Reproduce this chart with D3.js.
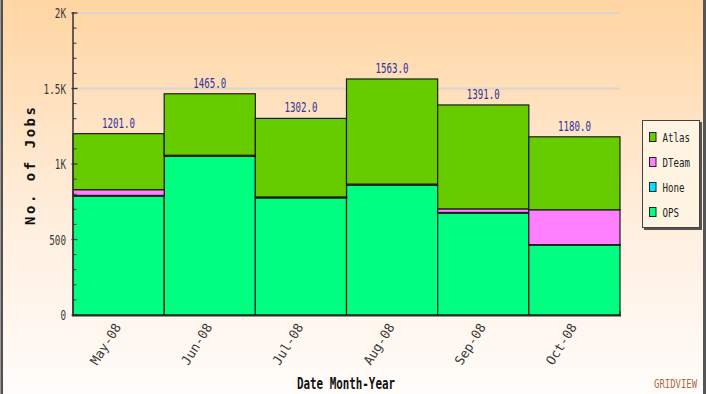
<!DOCTYPE html>
<html>
<head>
<meta charset="utf-8">
<script src="https://cdn.jsdelivr.net/npm/d3@7"></script>
<style>
  html, body { margin: 0; padding: 0; background: #fff; }
  svg { display: block; }
</style>
</head>
<body>
<svg id="chart" width="706" height="394"></svg>
<script>
// Monthly job counts per VO, stacked bottom-to-top: OPS, Hone, DTeam, Atlas
const months = ["May-08", "Jun-08", "Jul-08", "Aug-08", "Sep-08", "Oct-08"];
const ops    = [788, 1052, 776, 861, 675, 464];
const hone   = [4, 6, 6, 6, 4, 2];
const dteam  = [38, 0, 0, 0, 24, 231];
const atlas  = [371, 407, 520, 696, 688, 483];

const seriesNames  = ["OPS", "Hone", "DTeam", "Atlas"];
const seriesColors = { OPS: "#00ff80", Hone: "#00e5ff", DTeam: "#ff80ff", Atlas: "#66cc00" };
const legendOrder  = ["Atlas", "DTeam", "Hone", "OPS"];
const yTicks       = [0, 500, 1000, 1500, 2000];
const yTickLabels  = ["0", "500", "1K", "1.5K", "2K"];

const rows = months.map((m, i) => ({
  month: m, OPS: ops[i], Hone: hone[i], DTeam: dteam[i], Atlas: atlas[i]
}));

const W = 706, H = 394;
const svg = d3.select("#chart");

// background gradient
const defs = svg.append("defs");
const grad = defs.append("linearGradient").attr("id", "bg")
  .attr("x1", 0).attr("y1", 0).attr("x2", 0).attr("y2", 1);
grad.append("stop").attr("offset", "0%").attr("stop-color", "#ffd5a2");
grad.append("stop").attr("offset", "55%").attr("stop-color", "#ffeedd");
grad.append("stop").attr("offset", "100%").attr("stop-color", "#fffcfa");
svg.append("rect").attr("width", W).attr("height", H).attr("fill", "url(#bg)");

// frame edges
svg.append("rect").attr("x", 0).attr("y", 0).attr("width", 1).attr("height", H).attr("fill", "#9a9a9a");
svg.append("rect").attr("x", 1).attr("y", 0).attr("width", 2).attr("height", H).attr("fill", "#505050");
svg.append("rect").attr("x", 703).attr("y", 0).attr("width", 3).attr("height", H).attr("fill", "#555555");

const x = d3.scaleBand().domain(months).range([73, 620]).padding(0);
const y = d3.scaleLinear().domain([0, 2000]).range([315, 13]);

// gridlines
svg.append("g").selectAll("line").data(yTicks.filter(v => v > 0)).join("line")
  .attr("x1", 73).attr("x2", 620)
  .attr("y1", d => y(d)).attr("y2", d => y(d))
  .attr("stroke", "#d9d6d0").attr("stroke-width", 2);

// stacked bars
const stacked = d3.stack().keys(seriesNames)(rows);
svg.append("g").selectAll("g").data(stacked).join("g")
  .attr("fill", d => seriesColors[d.key])
  .selectAll("rect").data(d => d).join("rect")
  .attr("x", d => x(d.data.month))
  .attr("width", x.bandwidth())
  .attr("y", d => y(d[1]))
  .attr("height", d => y(d[0]) - y(d[1]))
  .attr("stroke", "#1c1c1c")
  .attr("stroke-width", d => (d[1] - d[0]) < 10 ? 1.6 : 1.2);

// total value labels
svg.append("g").selectAll("text").data(rows).join("text")
  .attr("x", d => x(d.month) + x.bandwidth() / 2)
  .attr("y", d => y(d.OPS + d.Hone + d.DTeam + d.Atlas) - 6)
  .attr("text-anchor", "middle")
  .attr("font-family", "DejaVu Sans Mono")
  .attr("font-size", 14)
  .attr("fill", "#33339a")
  .attr("textLength", 33).attr("lengthAdjust", "spacingAndGlyphs")
  .text(d => (d.OPS + d.Hone + d.DTeam + d.Atlas).toFixed(1));

// y axis
const yAxis = svg.append("g");
yAxis.append("line").attr("x1", 73).attr("x2", 73).attr("y1", 12).attr("y2", 316)
  .attr("stroke", "#333").attr("stroke-width", 1.5);
yAxis.selectAll("line.minor").data(d3.range(100, 2000, 100).filter(v => v % 500 !== 0)).join("line")
  .attr("class", "minor")
  .attr("x1", 73).attr("x2", 76.5)
  .attr("y1", d => y(d)).attr("y2", d => y(d))
  .attr("stroke", "#333").attr("stroke-width", 1);
yAxis.selectAll("line.major").data(yTicks).join("line")
  .attr("class", "major")
  .attr("x1", 71.5).attr("x2", 77.5)
  .attr("y1", d => y(d)).attr("y2", d => y(d))
  .attr("stroke", "#333").attr("stroke-width", 1.3);
yAxis.selectAll("text").data(yTicks).join("text")
  .attr("x", 66).attr("y", d => y(d) + 5)
  .attr("text-anchor", "end")
  .attr("font-family", "DejaVu Sans Mono")
  .attr("font-size", 14)
  .attr("fill", "#3a3a3a")
  .attr("textLength", (d, i) => yTickLabels[i].length * 5.6)
  .attr("lengthAdjust", "spacingAndGlyphs")
  .text((d, i) => yTickLabels[i]);

// x axis
svg.append("line").attr("x1", 72).attr("x2", 621).attr("y1", 315.5).attr("y2", 315.5)
  .attr("stroke", "#2a2a2a").attr("stroke-width", 2);
svg.append("line").attr("x1", 620).attr("x2", 620).attr("y1", 311).attr("y2", 316)
  .attr("stroke", "#2a2a2a").attr("stroke-width", 1);
svg.append("g").selectAll("text").data(months).join("text")
  .attr("transform", d => `translate(${x(d) + x.bandwidth() / 2 + 3},${327}) rotate(-58)`)
  .attr("text-anchor", "end")
  .attr("font-family", "DejaVu Sans Mono")
  .attr("font-size", 13)
  .attr("fill", "#3a3a3a")
  .attr("textLength", 46).attr("lengthAdjust", "spacingAndGlyphs")
  .text(d => d);

// axis titles
svg.append("text")
  .attr("transform", "translate(35,166) rotate(-90)")
  .attr("text-anchor", "middle")
  .attr("font-family", "DejaVu Sans Mono")
  .attr("font-weight", "bold")
  .attr("font-size", 14)
  .attr("fill", "#111")
  .attr("textLength", 118).attr("lengthAdjust", "spacing")
  .text("No. of Jobs");

svg.append("text")
  .attr("x", 346).attr("y", 389)
  .attr("text-anchor", "middle")
  .attr("font-family", "DejaVu Sans Mono")
  .attr("font-weight", "bold")
  .attr("font-size", 15)
  .attr("fill", "#111")
  .attr("textLength", 98).attr("lengthAdjust", "spacingAndGlyphs")
  .text("Date Month-Year");

// watermark
svg.append("text")
  .attr("x", 697).attr("y", 388)
  .attr("text-anchor", "end")
  .attr("font-family", "DejaVu Sans Mono")
  .attr("font-size", 12)
  .attr("fill", "#b0683a")
  .attr("textLength", 43).attr("lengthAdjust", "spacingAndGlyphs")
  .text("GRIDVIEW");

// legend
const lg = svg.append("g");
lg.append("rect").attr("x", 644).attr("y", 122).attr("width", 58).attr("height", 108)
  .attr("fill", "#555");
lg.append("rect").attr("x", 642.5).attr("y", 120.5).attr("width", 57).attr("height", 107)
  .attr("fill", "#fff4e2").attr("stroke", "#444").attr("stroke-width", 1);
const items = lg.selectAll("g.item").data(legendOrder).join("g")
  .attr("class", "item")
  .attr("transform", (d, i) => `translate(649.5,${132.5 + i * 25})`);
items.append("rect").attr("width", 6.5).attr("height", 9)
  .attr("fill", d => seriesColors[d]).attr("stroke", "#222").attr("stroke-width", 1);
items.append("text")
  .attr("x", 13).attr("y", 9.5)
  .attr("font-family", "DejaVu Sans Mono")
  .attr("font-size", 13)
  .attr("fill", "#222")
  .attr("textLength", d => d.length * 5.5).attr("lengthAdjust", "spacingAndGlyphs")
  .text(d => d);
</script>
</body>
</html>
